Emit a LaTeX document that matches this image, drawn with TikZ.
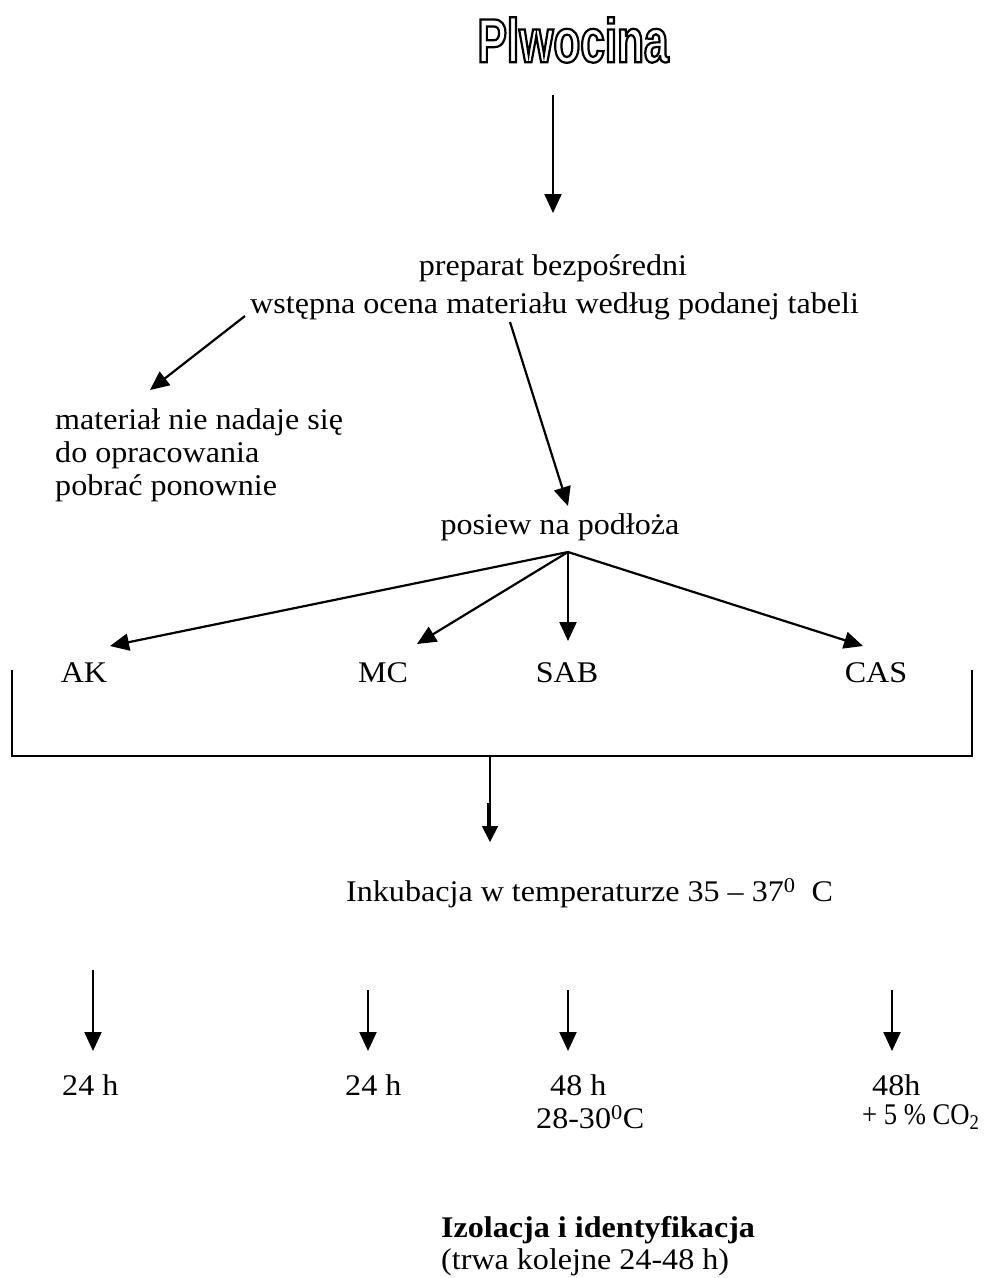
\documentclass[tikz,border=0pt]{standalone}
\usepackage{fontspec}
\setmainfont[FakeStretch=1.07]{Liberation Serif}
\newfontfamily\titlefont[FakeStretch=0.71]{Liberation Sans}
\usetikzlibrary{arrows.meta,calc}
\tikzset{
  txt/.style={inner sep=0pt, font=\fontsize{30}{34}\selectfont},
  arr/.style={line width=2.2pt, -{Triangle[length=19pt,width=17pt]}},
  ln/.style={line width=1.4pt},
}
\begin{document}
\begin{tikzpicture}[x=1pt,y=-1pt]
\useasboundingbox (0,0) rectangle (984,1278);
% title (outlined text)
\node[inner sep=0pt, font=\titlefont\bfseries\fontsize{62}{62}\selectfont] (title) at (573,40)
  {\special{pdf:literal direct 1 Tr 2.2 w}Plwocina\special{pdf:literal direct 0 Tr}};

\node[txt] (prep) at (553,268) {preparat bezpośredni};
\node[txt, anchor=west] (ocena) at (250,306) {wstępna ocena materiału według podanej tabeli};
\node[txt, anchor=north west, align=left] (nie) at (55,408) {materiał nie nadaje się\\[-1pt]do opracowania\\[-1pt]pobrać ponownie};
\node[txt] (posiew) at (560,527) {posiew na podłoża};
\node[txt] (AK) at (84,673) {AK};
\node[txt] (MC) at (383,673) {MC};
\node[txt] (SAB) at (567,673) {SAB};
\node[txt] (CAS) at (876,673) {CAS};
\node[txt, anchor=west] (ink) at (346,893) {Inkubacja w temperaturze 35 -- 37\textsuperscript{0}\ \ C};
\node[txt, anchor=west] (h1) at (62,1085) {24 h};
\node[txt, anchor=west] (h2) at (345,1085) {24 h};
\node[txt, anchor=west] (h3) at (550,1085) {48 h};
\node[txt, anchor=west] (t3) at (536,1117) {28-30\textsuperscript{0}C};
\node[txt, anchor=west] (h4) at (872,1085) {48h};
\node[txt, anchor=west] (t4) at (862,1117) {\scalebox{0.83}[1]{+ 5 \% CO\textsubscript{2}}};
\node[txt, anchor=west, font=\fontsize{30}{34}\selectfont\bfseries] (izo) at (441,1230) {Izolacja i identyfikacja};
\node[txt, anchor=west] (trwa) at (441,1262) {(trwa kolejne 24-48 h)};

% connectors
\coordinate (a1s) at (553,95);
\coordinate (a1e) at (553,213);
\draw[arr] (a1s) -- (a1e);
\coordinate (l1s) at (245,316);
\coordinate (l1e) at (150,390);
\draw[arr] (l1s) -- (l1e);
\coordinate (r1s) at (510,322);
\coordinate (r1e) at (568,506);
\draw[arr] (r1s) -- (r1e);
\coordinate (hub) at (568,552);
\coordinate (eAK) at (110,646);
\coordinate (eMC) at (417,644);
\coordinate (eSAB) at (568,641);
\coordinate (eCAS) at (863,646);
\draw[arr] (hub) -- (eAK);
\draw[arr] (hub) -- (eMC);
\draw[arr] (hub) -- (eSAB);
\draw[arr] (hub) -- (eCAS);
% bracket
\coordinate (bl) at (12,670);
\coordinate (br) at (972,670);
\coordinate (bmid) at (490,756);
\draw[ln] (bl) |- (br |- bmid) -- (br);
\coordinate (bdown) at (490,842);
\draw[line width=1.8pt, -{Triangle[length=16pt,width=16pt]}] (bmid) -- (bdown);
\coordinate (dbl1) at (487.5,803);
\coordinate (dbl2) at (487.5,827);
\draw[line width=2pt] (dbl1) -- (dbl2);
% incubation arrows
\coordinate (i1s) at (93,970);  \coordinate (i1e) at (93,1051);
\coordinate (i2s) at (368,990); \coordinate (i2e) at (368,1051);
\coordinate (i3s) at (568,990); \coordinate (i3e) at (568,1051);
\coordinate (i4s) at (892,990); \coordinate (i4e) at (892,1051);
\draw[arr] (i1s) -- (i1e);
\draw[arr] (i2s) -- (i2e);
\draw[arr] (i3s) -- (i3e);
\draw[arr] (i4s) -- (i4e);
\end{tikzpicture}
\end{document}
